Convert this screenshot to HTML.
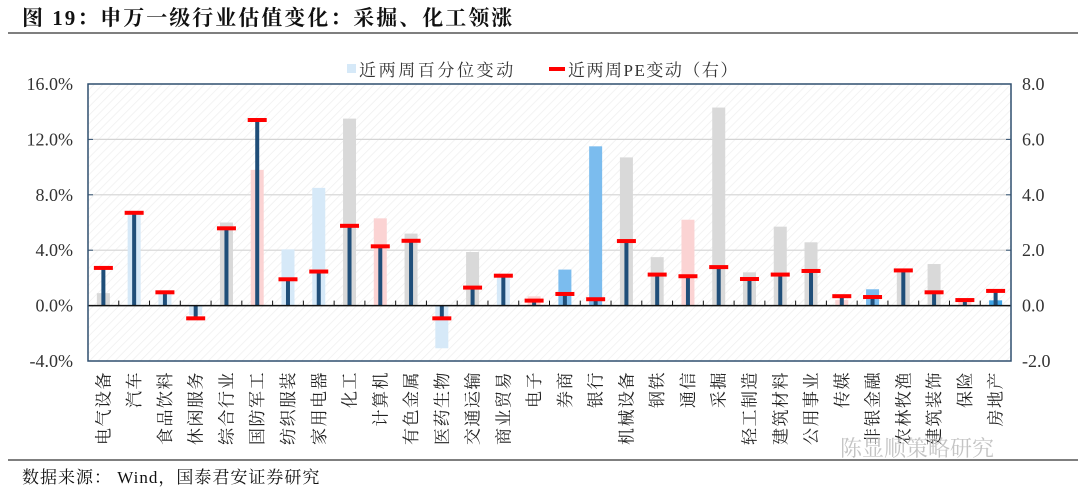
<!DOCTYPE html>
<html><head><meta charset="utf-8">
<style>
html,body{margin:0;padding:0;background:#fff;}
svg{display:block;}
text{font-family:"Liberation Serif","Noto Serif CJK SC",serif;}
</style></head>
<body>
<svg id="chart" width="1080" height="495" viewBox="0 0 1080 495" xmlns="http://www.w3.org/2000/svg">
<defs>
<pattern id="hatch" width="6" height="6" patternUnits="userSpaceOnUse" patternTransform="rotate(45)">
<rect width="6" height="6" fill="#ffffff"/>
<line x1="0" y1="0" x2="0" y2="6" stroke="#efefef" stroke-width="1.5"/>
</pattern>
</defs>
<text x="22" y="25" font-size="21" font-weight="bold" letter-spacing="2" fill="#111">图 19：申万一级行业估值变化：采掘、化工领涨</text>
<line x1="8" y1="33" x2="1078" y2="33" stroke="#333" stroke-width="1.2"/>
<g>
<g>
<rect x="347" y="64" width="9" height="9" fill="#d6e9f8"/>
<text x="359" y="76" font-size="17" letter-spacing="2.6" fill="#333" font-family="Liberation Sans,Noto Sans CJK SC,sans-serif">近两周百分位变动</text>
</g>
<g>
<rect x="549" y="67" width="16" height="4" fill="#ff0000"/>
<text x="568" y="76" font-size="17" letter-spacing="1.5" fill="#333" font-family="Liberation Sans,Noto Sans CJK SC,sans-serif">近两周PE变动（右）</text>
</g>
</g>
<rect x="88" y="84" width="923" height="277" fill="url(#hatch)"/>
<g id="grid"></g>
<g id="bars"></g>
<g id="axes"></g>
<rect x="88" y="84" width="923" height="277" fill="none" stroke="#2f4f6f" stroke-width="1.5"/>
<line x1="8" y1="460" x2="1078" y2="460" stroke="#333" stroke-width="1.2"/>
<text x="22" y="483" font-size="17" letter-spacing="1" fill="#111">数据来源：  Wind，国泰君安证券研究</text>
<text x="840" y="456" font-size="22" fill="#c4c4c4" font-family="Liberation Sans,Noto Sans CJK SC,sans-serif">陈显顺策略研究</text>
</svg>
<script>
const categories = ["电气设备","汽车","食品饮料","休闲服务","综合行业","国防军工","纺织服装","家用电器","化工","计算机","有色金属","医药生物","交通运输","商业贸易","电子","券商","银行","机械设备","钢铁","通信","采掘","轻工制造","建筑材料","公用事业","传媒","非银金融","农林牧渔","建筑装饰","保险","房地产"];
const pctChange = [0.9,6.6,0.85,-0.7,6.0,9.8,4.06,8.5,13.5,6.3,5.2,-3.08,3.87,2.16,0.67,2.6,11.5,10.7,3.5,6.2,14.3,2.4,5.7,4.57,0.4,1.18,2.4,3.0,0.26,0.38];
const peChange = [1.36,3.35,0.48,-0.46,2.79,6.7,0.95,1.23,2.88,2.14,2.34,-0.46,0.65,1.08,0.18,0.42,0.23,2.33,1.12,1.06,1.39,0.96,1.12,1.25,0.34,0.31,1.27,0.48,0.2,0.53];
const barColorKeys = ["g","l","l","l","g","p","l","l","g","p","g","l","g","l","p","m","m","g","g","p","g","g","g","g","p","m","g","g","p","b"];
const leftTicks = [-4,0,4,8,12,16];
const rightTicks = [-2,0,2,4,6,8];

const NS="http://www.w3.org/2000/svg";
const X0=88,X1=1011,YT=84,YB=361;
const band=(X1-X0)/categories.length;
const yL=v=>YB-(v-(-4))/(20)*(YB-YT);
const yR=v=>YB-(v-(-2))/(10)*(YB-YT);
const xC=i=>X0+band*(i+0.5);
const colors={g:"#d9d9d9",l:"#d6e9f8",p:"#fbd3d3",m:"#7bbcee",b:"#3fa4e6"};
function mk(tag,attrs,parent){const e=document.createElementNS(NS,tag);for(const k in attrs)e.setAttribute(k,attrs[k]);parent.appendChild(e);return e;}
const grid=document.getElementById('grid'),bars=document.getElementById('bars'),axes=document.getElementById('axes');
leftTicks.forEach(t=>{
  if(t>-4&&t<16&&t!==0){const l=mk('line',{x1:X0,x2:X1,y1:yL(t),y2:yL(t),stroke:'#d4d4d4','stroke-width':1.2},grid);
  
  }
  const tx=mk('text',{x:73,y:yL(t)+6,'font-size':18,fill:'#333','text-anchor':'end'},axes);
  tx.textContent=t.toFixed(1)+'%';
  
  
  const tk=mk('line',{x1:X0,x2:X0+5,y1:yL(t),y2:yL(t),stroke:'#2f4f6f','stroke-width':1},axes);
  
  
});
rightTicks.forEach(t=>{
  const tx=mk('text',{x:1022,y:yR(t)+6,'font-size':18,fill:'#333','text-anchor':'start'},axes);
  tx.textContent=t.toFixed(1);
  
  
  const tk=mk('line',{x1:X1-5,x2:X1,y1:yR(t),y2:yR(t),stroke:'#2f4f6f','stroke-width':1},axes);
  
  
});
const y0=yL(0);
categories.forEach((c,i)=>{
  const cx=xC(i);
  const v=pctChange[i];
  const r=mk('rect',{x:cx-6.5,y:Math.min(yL(v),y0),width:13,height:Math.abs(yL(v)-y0),fill:colors[barColorKeys[i]]},bars);
  
  
  const p=peChange[i];
  const s=mk('rect',{x:cx-2,y:Math.min(yR(p),y0),width:4,height:Math.abs(yR(p)-y0),fill:'#1f4e79'},bars);
  
  
  const m=mk('rect',{x:cx-9.5,y:yR(p)-2,width:19,height:4,fill:'#ff0000'},bars);
  
  
  const lb=mk('text',{transform:`translate(${cx+6},371) rotate(-90)`,'font-size':17,'letter-spacing':1.5,fill:'#222','text-anchor':'end'},axes);
  lb.textContent=c;
  
  
  if(i>0){const tk=mk('line',{x1:X0+band*i,x2:X0+band*i,y1:y0,y2:y0-5,stroke:'#111','stroke-width':1},axes);
  
  }
});
const zl=mk('line',{x1:X0,x2:X1,y1:y0,y2:y0,stroke:'#111','stroke-width':1.5},axes);


</script>
</body></html>
